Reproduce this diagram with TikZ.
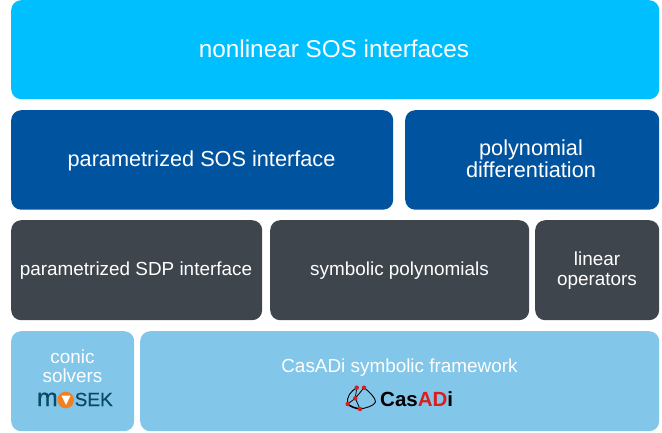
\documentclass[tikz,border=0pt]{standalone}
\usepackage{fontspec}
\setmainfont{Liberation Sans}
\newfontfamily\logofont[FakeBold=0.6]{Liberation Sans}
\definecolor{topc}{HTML}{00BFFF}
\definecolor{midc}{HTML}{00539F}
\definecolor{darkc}{HTML}{3F454C}
\definecolor{lightc}{HTML}{82C6E9}
\definecolor{mosekc}{HTML}{0B4A63}
\definecolor{orangec}{HTML}{F08020}
\definecolor{redc}{HTML}{D81E1E}
\tikzset{
  blk/.style={rectangle,rounded corners=10pt,inner sep=0pt,anchor=north west},
  lbl/.style={inner sep=0pt,align=center,text=white},
  fa/.style={font=\fontsize{24.3}{26}\selectfont},
  fb/.style={font=\fontsize{21.7}{22}\selectfont},
  fc/.style={font=\fontsize{18.9}{20.5}\selectfont},
  fd/.style={font=\fontsize{18.9}{19}\selectfont},
  gr/.style={line width=0.9pt,black},
  dot/.style={circle,fill=redc,inner sep=0pt,minimum size=4.5pt},
}
\newcommand{\blockbox}[6]{\node[blk,fill=#6,minimum width=#4 pt-#2 pt,minimum height=#5 pt-#3 pt] (#1) at (#2,-#3) {};}
\begin{document}
\begin{tikzpicture}[x=1pt,y=1pt]
\useasboundingbox (0,0) rectangle (662,-432);
\blockbox{a}{11}{0}{659}{99}{topc}
\blockbox{b}{11}{110}{393}{209.5}{midc}
\blockbox{c}{405}{110}{659}{209.5}{midc}
\blockbox{d}{11}{220}{262}{320}{darkc}
\blockbox{e}{270}{220}{529}{320}{darkc}
\blockbox{f}{535}{220}{659}{320}{darkc}
\blockbox{g}{11}{331}{134}{431}{lightc}
\blockbox{h}{140}{331}{659}{431}{lightc}
\node[lbl,fa] (ta) at (334,-49) {nonlinear SOS interfaces};
\node[lbl,fb] (tb) at (201.5,-160.5) {parametrized SOS interface};
\node[lbl,fb] (tc) at (531,-159) {polynomial\\differentiation};
\node[lbl,fc] (td) at (136,-271) {parametrized SDP interface};
\node[lbl,fc] (te) at (399.5,-271) {symbolic polynomials};
\node[lbl,fc] (tf) at (597,-270.5) {linear\\operators};
\node[lbl,fd] (tg) at (72.5,-366.5) {conic\\solvers};
\node[lbl,fc] (th) at (399.5,-367.5) {CasADi symbolic framework};
% MOSEK logo
\node[lbl,text=mosekc,anchor=base east,font=\fontsize{25}{26}\logofont] (m1) at (58,-406) {m};
\fill[orangec] (65.7,-400) circle (8.3);
\fill[white] (61.5,-395.5) -- (70.5,-395.5) -- (66,-405) -- cycle;
\node[lbl,text=mosekc,anchor=base west,font=\fontsize{19}{20}\logofont] (m2) at (74.5,-406) {SEK};
% CasADi logo
\node[lbl,text=black,anchor=west,font=\fontsize{20.5}{22}\bfseries\selectfont] (ca) at (380,-399) {Cas\textcolor{redc}{AD}i};
\coordinate (p1) at (356.7,-387.7);
\coordinate (p2) at (364,-387.7);
\coordinate (p3) at (355.3,-398.3);
\coordinate (p4) at (347.7,-404);
\coordinate (p5) at (360,-409);
\draw[gr] (p4) .. controls (346,-397) and (351,-391) .. (p1);
\draw[gr] (p2) .. controls (370,-392) and (376,-399) .. (375.5,-402) .. controls (374,-406) and (366,-408) .. (p5);
\draw[gr,line width=1.6pt] (p4) .. controls (351,-407) and (355,-408) .. (p5);
\draw[gr,line width=0.8pt] (p1) -- (p3) -- (p2) (p3) -- (p4) (p3) -- (p5);
\foreach \p in {p1,p2,p3,p4,p5} \node[dot] at (\p) {};
\end{tikzpicture}
\end{document}
